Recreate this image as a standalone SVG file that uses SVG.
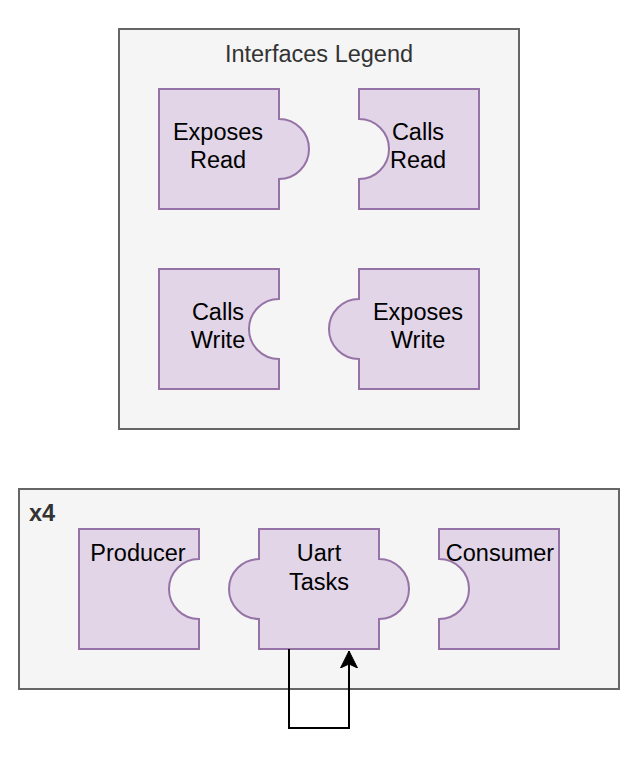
<svg xmlns="http://www.w3.org/2000/svg" width="640" height="758" viewBox="0 0 640 758">
  <defs>
    <style>
      .container { fill: #f5f5f5; stroke: #666666; stroke-width: 2; }
      .piece { fill: #e1d5e7; stroke: #9673a6; stroke-width: 2; }
      .lbl { font-family: "Liberation Sans", Arial, sans-serif; font-size: 23.5px; fill: #000000; text-anchor: middle; }
      .title { font-family: "Liberation Sans", Arial, sans-serif; font-size: 23.5px; fill: #333333; text-anchor: middle; }
      .bold { font-family: "Liberation Sans", Arial, sans-serif; font-size: 23.5px; font-weight: bold; fill: #333333; }
      .edge { fill: none; stroke: #000000; stroke-width: 2; }
    </style>
    <marker id="arrow" markerUnits="userSpaceOnUse" markerWidth="20" markerHeight="20" viewBox="0 0 20 20" refX="17" refY="10" orient="auto">
      <path d="M0,1.5 L17,10 L0,18.5 L4,10 Z" fill="#000000" stroke="#000000" stroke-width="1"/>
    </marker>
  </defs>

  <g id="legend-container">
    <rect class="container" x="119" y="29" width="400" height="400"/>
    <text class="title" x="319" y="62">Interfaces Legend</text>
  </g>

  <g id="exposes-read">
    <path class="piece" d="M159,89 H279 V119 A30,30 0 0 1 279,179 V209 H159 Z"/>
    <text class="lbl" x="218" y="140">Exposes</text>
    <text class="lbl" x="218" y="168">Read</text>
  </g>

  <g id="calls-read">
    <path class="piece" d="M359,89 H479 V209 H359 V179 A30,30 0 0 0 359,119 Z"/>
    <text class="lbl" x="418" y="140">Calls</text>
    <text class="lbl" x="418" y="168">Read</text>
  </g>

  <g id="calls-write">
    <path class="piece" d="M159,269 H279 V299 A30,30 0 0 0 279,359 V389 H159 Z"/>
    <text class="lbl" x="218" y="320">Calls</text>
    <text class="lbl" x="218" y="348">Write</text>
  </g>

  <g id="exposes-write">
    <path class="piece" d="M359,269 H479 V389 H359 V359 A30,30 0 0 1 359,299 Z"/>
    <text class="lbl" x="418" y="320">Exposes</text>
    <text class="lbl" x="418" y="348">Write</text>
  </g>

  <g id="x4-container">
    <rect class="container" x="19" y="489" width="600" height="200"/>
    <text class="bold" x="29" y="521">x4</text>
  </g>

  <g id="producer">
    <path class="piece" d="M79,529 H199 V559 A30,30 0 0 0 199,619 V649 H79 Z"/>
    <text class="lbl" x="138" y="561">Producer</text>
  </g>

  <g id="uart-tasks">
    <path class="piece" d="M259,529 H379 V559 A30,30 0 0 1 379,619 V649 H259 V619 A30,30 0 0 1 259,559 Z"/>
    <text class="lbl" x="319" y="561">Uart</text>
    <text class="lbl" x="319" y="590">Tasks</text>
  </g>

  <g id="consumer">
    <path class="piece" d="M439,529 H559 V649 H439 V619 A30,30 0 0 0 439,559 Z"/>
    <text class="lbl" x="500" y="561">Consumer</text>
  </g>

  <g id="connectors">
    <path class="edge" d="M289,649 V728 H349 V651" marker-end="url(#arrow)"/>
  </g>
</svg>
